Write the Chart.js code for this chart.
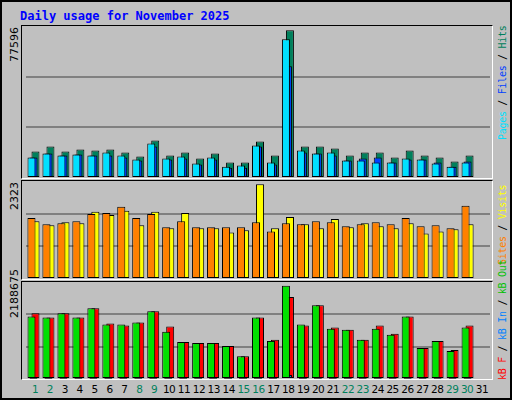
<!DOCTYPE html>
<html>
<head>
<meta charset="utf-8">
<script src="https://cdn.jsdelivr.net/npm/chart.js@4/dist/chart.umd.min.js"></script>
<style>
body { margin: 0; }
#page { position: relative; width: 512px; height: 400px; background: #c0c0c0; border: 2px solid #000; box-sizing: border-box; font-family: "DejaVu Sans Mono", monospace; overflow: hidden; }
#titulo { position: absolute; left: 18px; top: 7px; color: #0000ff; font-weight: bold; font-size: 12px; }
.painel { position: absolute; left: 19px; width: 470px; border: 1px solid; border-color: #000 #fff #fff #000; }
.valor { position: absolute; font-family: "DejaVu Sans", sans-serif; font-size: 11px; transform-origin: left top; transform: rotate(-90deg); white-space: nowrap; }
.legenda { position: absolute; font-size: 10px; transform-origin: left top; transform: rotate(-90deg); white-space: nowrap; letter-spacing: -0.3px; }
#dias { position: absolute; top: 381px; left: 0; }
#dias span { position: absolute; font-family: "DejaVu Sans", sans-serif; font-size: 10.5px; transform: translateX(-50%); letter-spacing: -0.5px; }
</style>
</head>
<body>
<div id="page">
  <div id="titulo">Daily usage for November 2025</div>
  <div class="painel" style="top:23px;height:152px"><canvas id="g1" width="470" height="152"></canvas></div>
  <div class="painel" style="top:178px;height:98px"><canvas id="g2" width="470" height="98"></canvas></div>
  <div class="painel" style="top:279px;height:97px"><canvas id="g3" width="470" height="97"></canvas></div>
  <div class="valor" style="left:6px;top:60px">77596</div>
  <div class="valor" style="left:6px;top:208px">2323</div>
  <div class="valor" style="left:6px;top:316px">2188675</div>
  <div class="legenda" style="left:495px;top:138px"><span style="color:#00e0ff">Pages</span> / <span style="color:#0040ff">Files</span> / <span style="color:#00805c">Hits</span></div>
  <div class="legenda" style="left:495px;top:263px"><span style="color:#ff8000">Sites</span> / <span style="color:#ffff00">Visits</span></div>
  <div class="legenda" style="left:495px;top:378px"><span style="color:#ff0000">kB F</span> / <span style="color:#0080ff">kB In</span> / <span style="color:#00c000">kB Out</span></div>
  <div id="dias"></div>
</div>
<script>
const dias = Array.from({ length: 31 }, (_, i) => String(i + 1));
const fimDeSemana = [1, 2, 8, 9, 15, 16, 22, 23, 29, 30];

const hits = [13872, 16506, 13872, 14926, 14399, 14926, 13346, 11238, 19667, 11765, 13346, 10185, 12819, 8078, 8078, 19140, 11765, 77596, 16506, 16506, 15453, 11765, 13346, 13346, 10712, 14399, 11765, 10712, 8604, 11765];
const files = [10712, 12819, 11765, 12292, 11765, 11765, 10712, 9131, 16506, 9658, 10185, 7024, 9658, 5444, 5444, 16506, 7024, 58650, 13346, 12819, 11765, 9131, 10185, 10712, 8078, 9658, 9658, 8078, 5970, 8604];
const pages = [10712, 12819, 11765, 12292, 11765, 13346, 11765, 9658, 18087, 10185, 11238, 7551, 10712, 5970, 6497, 17033, 8078, 72874, 14399, 12819, 13346, 9131, 9131, 8078, 8078, 10185, 9658, 7551, 5970, 8078];

const visits = [1417, 1317, 1392, 1367, 1644, 1568, 1669, 1317, 1644, 1241, 1618, 1241, 1241, 1140, 1191, 2323, 1241, 1518, 1342, 1241, 1468, 1266, 1367, 1291, 1241, 1367, 1115, 1166, 1216, 1342];
const sites = [1493, 1342, 1367, 1417, 1593, 1618, 1769, 1493, 1593, 1266, 1417, 1266, 1266, 1266, 1266, 1392, 1166, 1367, 1342, 1417, 1392, 1291, 1342, 1392, 1342, 1493, 1291, 1317, 1241, 1795];

const kbF = [1541684, 1445828, 1541684, 1445828, 1661504, 1302044, 1254116, 1326008, 1589612, 1230152, 870692, 846728, 846728, 774836, 535196, 1445828, 918620, 1925108, 1254116, 1733396, 1206188, 1158260, 918620, 1254116, 1062404, 1469792, 726908, 894656, 678980, 1254116];
const kbIn = [6000, 6000, 6000, 6000, 6000, 6000, 6000, 6000, 6000, 6000, 6000, 6000, 6000, 6000, 6000, 6000, 6000, 96000, 6000, 6000, 6000, 6000, 6000, 6000, 6000, 6000, 6000, 6000, 6000, 6000];
const kbOut = [1469792, 1445828, 1541684, 1445828, 1661504, 1278080, 1278080, 1326008, 1589612, 1110332, 870692, 846728, 846728, 774836, 535196, 1445828, 894656, 2188675, 1278080, 1733396, 1182224, 1158260, 918620, 1182224, 1038440, 1469792, 726908, 894656, 655016, 1206188];

// rótulos dos dias embaixo
const diasDiv = document.getElementById('dias');
dias.forEach((d, i) => {
    const s = document.createElement('span');
    s.textContent = d;
    s.style.left = (33 + i * 14.9) + 'px';
    s.style.color = fimDeSemana.includes(i + 1) ? '#00805c' : '#000';
    diasDiv.appendChild(s);
});

function criaGrafico(id, series, maximo, passo, catPct, barPct) {
    new Chart(document.getElementById(id), {
        type: 'bar',
        data: {
            labels: dias,
            datasets: series.map((s, i) => ({
                data: s.dados,
                backgroundColor: s.cor,
                borderColor: '#000',
                borderWidth: 1,
                borderSkipped: false,
                categoryPercentage: catPct,
                barPercentage: barPct,
                order: series.length - i // a última série fica por cima
            }))
        },
        options: {
            responsive: false,
            animation: false,
            devicePixelRatio: 1,
            layout: { padding: { left: 4, right: 2, top: 0, bottom: 0 } },
            plugins: { legend: { display: false }, tooltip: { enabled: false } },
            scales: {
                x: { display: false },
                y: {
                    min: 0,
                    max: maximo,
                    ticks: { display: false, stepSize: passo },
                    border: { display: false },
                    grid: {
                        drawTicks: false,
                        lineWidth: 2,
                        color: ctx => (ctx.tick.value > 0 && ctx.tick.value < maximo) ? '#808080' : 'rgba(0,0,0,0)'
                    }
                }
            }
        }
    });
}

criaGrafico('g1', [
    { dados: hits, cor: '#00805c' },
    { dados: files, cor: '#0040ff' },
    { dados: pages, cor: '#00e0ff' }
], 79800, 26600, 0.4, 4);

criaGrafico('g2', [
    { dados: visits, cor: '#ffff00' },
    { dados: sites, cor: '#ff8000' }
], 2400, 800, 0.54, 2);

criaGrafico('g3', [
    { dados: kbF, cor: '#ff0000' },
    { dados: kbIn, cor: '#0080ff' },
    { dados: kbOut, cor: '#00e000' }
], 2277000, 759000, 0.4, 4);
</script>
</body>
</html>
